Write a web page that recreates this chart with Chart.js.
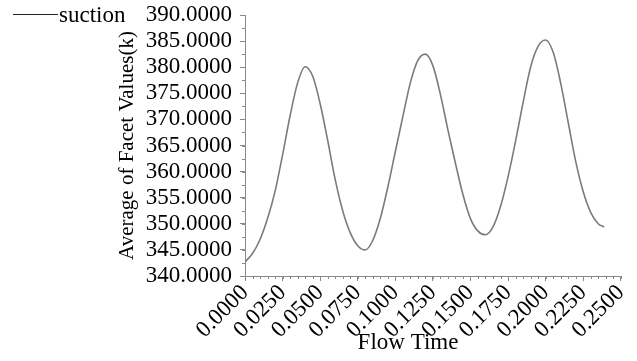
<!DOCTYPE html>
<html>
<head>
<meta charset="utf-8">
<script src="https://cdn.jsdelivr.net/npm/chart.js@4"></script>
<style>
  html, body { margin: 0; padding: 0; background: #fff; }
  #wrap { width: 637px; height: 361px; position: relative; }
</style>
</head>
<body>
<div id="wrap"><canvas id="chart" width="637" height="361"></canvas></div>
<script>
// Flow time (s) and facet average temperature (k)
const flowTime = [0.000, 0.005, 0.010, 0.015, 0.020, 0.025, 0.030, 0.035, 0.040, 0.045,
                  0.050, 0.055, 0.060, 0.065, 0.070, 0.075, 0.080, 0.085, 0.090, 0.095,
                  0.100, 0.105, 0.110, 0.115, 0.120, 0.125, 0.130, 0.135, 0.140, 0.145,
                  0.150, 0.155, 0.160, 0.165, 0.170, 0.175, 0.180, 0.185, 0.190, 0.195,
                  0.200, 0.205, 0.210, 0.215, 0.220, 0.225, 0.230, 0.235, 0.239];
const suction = [342.7, 344.3, 347.0, 351.0, 356.2, 363.2, 370.7, 377.0, 380.1, 378.3,
                 373.0, 366.0, 358.5, 352.5, 348.3, 345.8, 345.0, 346.8, 351.0, 357.0,
                 363.8, 370.5, 377.0, 381.3, 382.5, 380.3, 374.8, 368.0, 361.6, 355.6,
                 351.0, 348.6, 347.9, 349.4, 353.3, 359.0, 365.8, 373.2, 380.0, 384.0,
                 385.2, 382.9, 377.0, 369.5, 362.0, 356.2, 352.2, 350.0, 349.4];
const seriesName = 'suction';
const xTitle = 'Flow Time';
const yTitle = 'Average of Facet Values(k)';

const xMin = 0, xMax = 0.25, xStep = 0.025, xMinorStep = 0.005;
const yMin = 340, yMax = 390, yStep = 5, yMinorStep = 2.5;

const serif = "'Liberation Serif', 'Times New Roman', serif";
const axisGray = '#8a8a8a';

// small ticks between the labelled ones
const minorTicks = {
  id: 'minorTicks',
  afterDraw(chart) {
    const ctx = chart.ctx;
    const xs = chart.scales.x, ys = chart.scales.y;
    ctx.save();
    ctx.strokeStyle = axisGray;
    ctx.lineWidth = 1;
    ctx.beginPath();
    const nx = Math.round((xMax - xMin) / xMinorStep);
    for (let i = 0; i <= nx; i++) {
      const px = Math.round(xs.getPixelForValue(xMin + i * xMinorStep)) + 0.5;
      ctx.moveTo(px, xs.top);
      ctx.lineTo(px, xs.top + 3);
    }
    const ny = Math.round((yMax - yMin) / yMinorStep);
    for (let i = 0; i <= ny; i++) {
      const py = Math.round(ys.getPixelForValue(yMin + i * yMinorStep)) + 0.5;
      ctx.moveTo(ys.right - 3, py);
      ctx.lineTo(ys.right, py);
    }
    ctx.stroke();
    ctx.restore();
  }
};

// legend sample line + name in the top left corner, x title sits a bit left of centre
const extraText = {
  id: 'extraText',
  afterDraw(chart) {
    const ctx = chart.ctx;
    const ds = chart.data.datasets[0];
    ctx.save();
    ctx.strokeStyle = '#222';
    ctx.lineWidth = 1;
    ctx.beginPath();
    ctx.moveTo(13, 14.5);
    ctx.lineTo(58, 14.5);
    ctx.stroke();
    ctx.fillStyle = '#000';
    ctx.font = '23px ' + serif;
    ctx.textBaseline = 'alphabetic';
    ctx.fillText(ds.label, 59, 22);

    ctx.textAlign = 'center';
    ctx.textBaseline = 'middle';
    ctx.fillText(xTitle, chart.scales.x.left + 163, 343);
    ctx.restore();
  }
};

const points = flowTime.map((t, i) => ({ x: t, y: suction[i] }));

new Chart(document.getElementById('chart'), {
  type: 'line',
  data: {
    datasets: [{
      label: seriesName,
      data: points,
      borderColor: '#7b7b7b',
      borderWidth: 1.6,
      pointRadius: 0,
      fill: false,
      cubicInterpolationMode: 'monotone'
    }]
  },
  options: {
    responsive: false,
    animation: false,
    layout: { padding: { left: 115, top: 0, right: 14, bottom: 0 } },
    plugins: {
      legend: { display: false },
      tooltip: { enabled: false }
    },
    scales: {
      x: {
        type: 'linear',
        min: xMin,
        max: xMax,
        afterFit(scale) { scale.height = 85; },
        border: { display: true, color: axisGray, width: 1 },
        grid: { drawOnChartArea: false, drawTicks: true, tickLength: 5, color: axisGray },
        ticks: {
          stepSize: xStep,
          autoSkip: false,
          minRotation: 45,
          maxRotation: 45,
          padding: 0,
          color: '#000',
          font: { family: serif, size: 23, lineHeight: 1 },
          callback: v => v.toFixed(4)
        },
        title: { display: false, text: xTitle }
      },
      y: {
        min: yMin,
        max: yMax,
        afterFit(scale) {
          scale.width = 130;
          scale.paddingTop = 15;
          scale.paddingBottom = 0;
        },
        border: { display: true, color: axisGray, width: 1 },
        grid: { drawOnChartArea: false, drawTicks: true, tickLength: 5, color: axisGray },
        ticks: {
          stepSize: yStep,
          autoSkip: false,
          padding: 8,
          color: '#000',
          font: { family: serif, size: 23 },
          callback: v => v.toFixed(4)
        },
        title: {
          display: true,
          text: yTitle,
          color: '#000',
          font: { family: serif, size: 21 },
          padding: { top: 0, bottom: 0 }
        }
      }
    }
  },
  plugins: [minorTicks, extraText]
});
</script>
</body>
</html>
